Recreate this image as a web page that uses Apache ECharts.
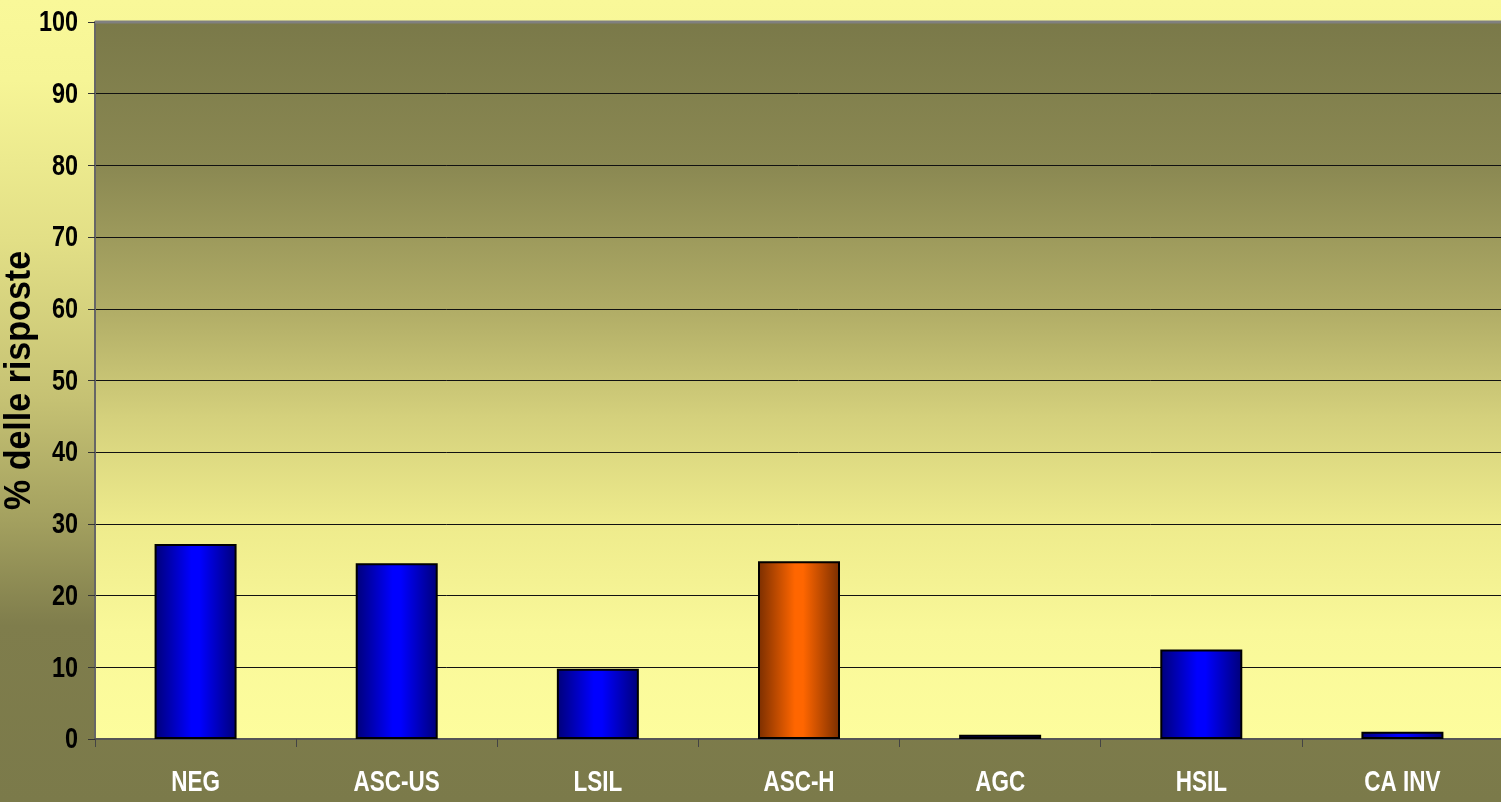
<!DOCTYPE html>
<html>
<head>
<meta charset="utf-8">
<script src="https://cdn.jsdelivr.net/npm/echarts@6/dist/echarts.min.js"></script>
<style>
  html, body { margin: 0; padding: 0; }
  #chart { width: 1501px; height: 802px; }
</style>
</head>
<body>
<div id="chart"></div>
<script>
// Categorie citologiche e percentuale delle risposte
const categories = ['NEG', 'ASC-US', 'LSIL', 'ASC-H', 'AGC', 'HSIL', 'CA INV'];
const values = [27.2, 24.5, 9.8, 24.8, 0.6, 12.5, 1.0];
const highlighted = ['ASC-H'];
const yTickLabels = ['0', '10', '20', '30', '40', '50', '60', '70', '80', '90', '100'];
const yTicks = { min: 0, max: 100, interval: 10 };
const yAxisTitle = '% delle risposte';

// Testo condensato: Liberation Sans Bold compresso in orizzontale
const labelFont = 'bold 30px "Liberation Sans", Arial, sans-serif';
const titleFont = 'bold 37px "Liberation Sans", Arial, sans-serif';

function barGradient(edge, mid) {
  return {
    type: 'linear', x: 0, y: 0, x2: 1, y2: 0,
    colorStops: [
      { offset: 0, color: edge },
      { offset: 0.45, color: mid },
      { offset: 0.55, color: mid },
      { offset: 1, color: edge }
    ]
  };
}

const blueFill = barGradient('#000078', '#0000ff');
const orangeFill = barGradient('#7a2e00', '#ff6600');

const chart = echarts.init(document.getElementById('chart'));
chart.setOption({
  animation: false,
  backgroundColor: {
    type: 'linear', x: 0, y: 0, x2: 0, y2: 1,
    colorStops: [
      { offset: 0, color: '#f9f899' },
      { offset: 0.1, color: '#f6f596' },
      { offset: 0.3, color: '#e2df86' },
      { offset: 0.5, color: '#c5c173' },
      { offset: 0.65, color: '#a3a05f' },
      { offset: 0.78, color: '#7f7d4c' },
      { offset: 1, color: '#7b7a4a' }
    ]
  },
  grid: {
    left: 95, top: 22, right: -2, bottom: 63,
    containLabel: false,
    outerBoundsMode: 'none',
    show: true,
    borderWidth: 0,
    backgroundColor: {
      type: 'linear', x: 0, y: 0, x2: 0, y2: 1,
      colorStops: [
        { offset: 0, color: '#7a7949' },
        { offset: 0.2, color: '#8a8852' },
        { offset: 0.4, color: '#b0ac66' },
        { offset: 0.55, color: '#d4d07c' },
        { offset: 0.7, color: '#eeeb8c' },
        { offset: 0.85, color: '#f9f899' },
        { offset: 1, color: '#fdfd9d' }
      ]
    }
  },
  xAxis: {
    type: 'category',
    data: categories,
    axisLine: { show: true, lineStyle: { color: '#555555', width: 2 } },
    axisTick: { show: true, inside: false, length: 8, lineStyle: { color: '#444444', width: 1 } },
    axisLabel: { show: false },
    splitLine: { show: false }
  },
  yAxis: {
    type: 'value',
    min: yTicks.min, max: yTicks.max, interval: yTicks.interval,
    axisLine: { show: true, lineStyle: { color: '#666666', width: 2 } },
    axisTick: { show: true, length: 7, lineStyle: { color: '#333333', width: 1 } },
    axisLabel: { show: false },
    splitLine: { show: true, lineStyle: { color: '#111111', width: 1 } }
  },
  series: [{
    type: 'bar',
    barWidth: 82,
    data: values.map((v, i) => ({
      value: v,
      itemStyle: { color: highlighted.includes(categories[i]) ? orangeFill : blueFill }
    })),
    itemStyle: { borderColor: '#000000', borderWidth: 2 }
  }]
});

// Etichette degli assi e titolo, posizionate con le scale del grafico
const graphics = [];
const topY = chart.convertToPixel({ yAxisIndex: 0 }, yTicks.max);
const baseY = chart.convertToPixel({ yAxisIndex: 0 }, yTicks.min);
const leftX = chart.convertToPixel({ xAxisIndex: 0 }, categories[0]) -
  (chart.convertToPixel({ xAxisIndex: 0 }, categories[1]) - chart.convertToPixel({ xAxisIndex: 0 }, categories[0])) / 2;

graphics.push({
  type: 'line',
  shape: { x1: leftX, y1: topY, x2: 1501, y2: topY },
  style: { stroke: '#808080', lineWidth: 3 },
  z: 10
});

yTickLabels.forEach(t => {
  graphics.push({
    type: 'text',
    x: leftX - 17,
    y: chart.convertToPixel({ yAxisIndex: 0 }, Number(t)) + 1,
    scaleX: 0.78,
    style: { text: t, font: labelFont, fill: '#000000', align: 'right', verticalAlign: 'middle' },
    z: 10
  });
});

categories.forEach(c => {
  graphics.push({
    type: 'text',
    x: chart.convertToPixel({ xAxisIndex: 0 }, c),
    y: baseY + 44,
    scaleX: 0.75,
    style: { text: c, font: labelFont, fill: '#ffffff', align: 'center', verticalAlign: 'middle' },
    z: 10
  });
});

graphics.push({
  type: 'text',
  x: 20,
  y: (topY + baseY) / 2,
  rotation: Math.PI / 2,
  scaleX: 0.92,
  style: { text: yAxisTitle, font: titleFont, fill: '#000000', align: 'center', verticalAlign: 'middle' },
  z: 10
});

chart.setOption({ graphic: graphics });
</script>
</body>
</html>
